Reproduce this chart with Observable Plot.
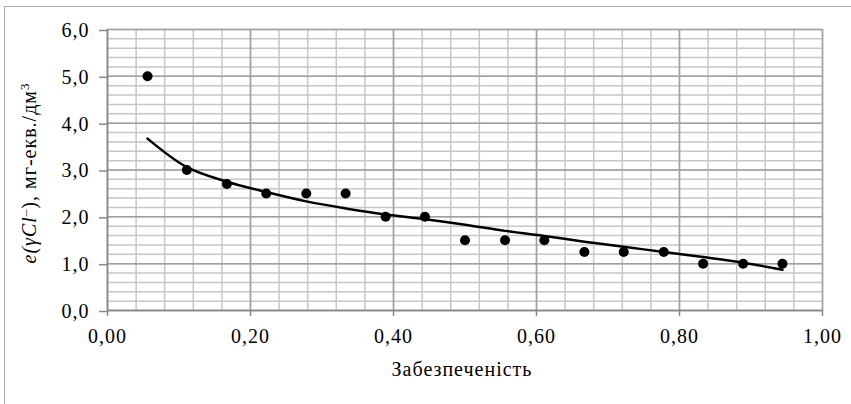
<!DOCTYPE html>
<html><head><meta charset="utf-8">
<script src="https://cdn.jsdelivr.net/npm/d3@7"></script>
<script src="https://cdn.jsdelivr.net/npm/@observablehq/plot@0.6"></script>
<style>
body{margin:0;background:#fff;}
#wrap{position:relative;width:851px;height:404px;overflow:hidden;background:#fff;}
#border{position:absolute;left:4px;top:6px;width:900px;height:500px;border:1.5px solid #a9a9a9;pointer-events:none;}
#chart svg text{font-variant:normal !important;font-variant-numeric:normal !important;letter-spacing:1px;}
</style></head><body><div id="wrap"><div id="chart"></div><div id="border"></div></div>
<script>
// Observed points (probability of exceedance vs concentration)
const xValues = [0.056, 0.111, 0.167, 0.222, 0.278, 0.333, 0.389, 0.444, 0.500, 0.556, 0.611, 0.667, 0.722, 0.778, 0.833, 0.889, 0.944];
const yValues = [5.0, 3.0, 2.7, 2.5, 2.5, 2.5, 2.0, 2.0, 1.5, 1.5, 1.5, 1.25, 1.25, 1.25, 1.0, 1.0, 1.0];
// Trend line values at the same x positions
const trendValues = [3.67, 3.06, 2.75, 2.53, 2.33, 2.18, 2.05, 1.95, 1.83, 1.70, 1.59, 1.47, 1.36, 1.25, 1.14, 1.02, 0.87];
// Axis ticks
const xTicks = [0, 0.2, 0.4, 0.6, 0.8, 1.0];
const yTicks = [0, 1, 2, 3, 4, 5, 6];
const xMinor = d3.range(0, 1.0001, 0.04);
const yMinor = d3.range(0, 6.0001, 0.2);
const xLabel = "Забезпеченість";
const yLabel = "e(γCl⁻), мг-екв./дм³";

const points = xValues.map((x, i) => ({x, y: yValues[i]}));
const trend = xValues.map((x, i) => ({x, y: trendValues[i]}));
const fmtX = d => d.toFixed(2).replace(".", ",");
const fmtY = d => d.toFixed(1).replace(".", ",");
const FONT = "'Liberation Serif', serif";

const chart = Plot.plot({
  width: 851, height: 404,
  marginLeft: 107, marginRight: 29, marginTop: 29, marginBottom: 94,
  style: {fontFamily: FONT, fontSize: "20px", color: "#000", background: "transparent", overflow: "visible"},
  x: {domain: [0, 1]},
  y: {domain: [0, 6]},
  marks: [
    Plot.ruleX(xMinor, {stroke: "#c6c6c6", strokeWidth: 1.5}),
    Plot.ruleY(yMinor, {stroke: "#c6c6c6", strokeWidth: 1.5}),
    Plot.ruleX(xTicks, {stroke: "#a0a0a0", strokeWidth: 1.5}),
    Plot.ruleY(yTicks, {stroke: "#a0a0a0", strokeWidth: 1.5}),
    Plot.ruleX([0], {stroke: "#888888", strokeWidth: 1.5}),
    Plot.ruleY([0], {stroke: "#888888", strokeWidth: 1.5}),
    Plot.axisX({ticks: xTicks, tickFormat: fmtX, tickSize: 6, tickPadding: 12, label: null, stroke: "#888888", strokeWidth: 1.5, fill: "#000", fontSize: 20}),
    Plot.axisY({ticks: yTicks, tickFormat: fmtY, tickSize: 8, tickPadding: 10, label: null, stroke: "#888888", strokeWidth: 1.5, fill: "#000", fontSize: 20, dy: 1}),
    Plot.line(trend, {x: "x", y: "y", curve: "catmull-rom", stroke: "#000", strokeWidth: 2.5}),
    Plot.dot(points, {x: "x", y: "y", r: 5, fill: "#000", stroke: "none"}),
    Plot.text([xLabel], {text: d => d, frameAnchor: "bottom", textAnchor: "middle", lineAnchor: "bottom", dy: 65, dx: -3, fontSize: 20, fill: "#000"}),
    Plot.text([yLabel], {text: d => d, frameAnchor: "left", textAnchor: "middle", lineAnchor: "middle", rotate: -90, dx: -78, dy: 3, fontSize: 20, fill: "#000"})
  ]
});
document.getElementById("chart").appendChild(chart);

// Force the serif face on every text element
d3.select(chart).selectAll("g, text").attr("font-family", FONT).style("font-family", FONT).attr("font-variant", null);

// Style the y label: italic symbol and superscripts
d3.select(chart).selectAll("text").each(function() {
  if (this.textContent === yLabel) {
    this.innerHTML = '<tspan font-style="italic">e(γCl</tspan><tspan baseline-shift="super" font-size="13">–</tspan>), мг-екв./дм<tspan baseline-shift="super" font-size="13">3</tspan>';
  }
});
</script>
</body></html>
